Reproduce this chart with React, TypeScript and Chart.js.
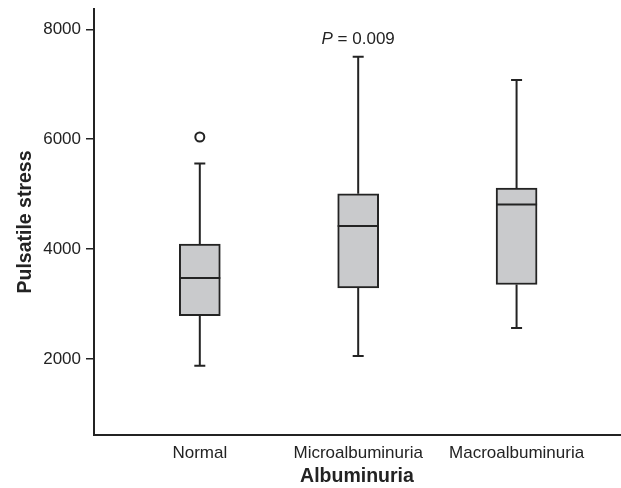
import React, { useEffect, useRef } from "react";
import { Chart, registerables } from "chart.js";

Chart.register(...registerables);

// ---- data ----
const categories = ["Normal", "Microalbuminuria", "Macroalbuminuria"];
const positions = [1, 2, 3];
const whiskerLow = [1880, 2055, 2564];
const q1 = [2790, 3292, 3357];
const median = [3474, 4420, 4813];
const q3 = [4090, 5008, 5111];
const whiskerHigh = [5560, 7500, 7076];
const outlierX = [1];
const outlierY = [6040];
const yTicks = [2000, 4000, 6000, 8000];
const annotationPos = [2, 7810];
const annotationParts = ["P", " = 0.009"];

const FONT = "'Liberation Sans', Arial, Helvetica, sans-serif";
const INK = "#232323";
const BOX_FILL = "#c9cacc";

const boxPlugin = {
  id: "boxWhiskers",
  afterDatasetsDraw(chart: any) {
    const { ctx, scales } = chart;
    const xs = scales.x;
    const ys = scales.y;
    const meta = chart.getDatasetMeta(0);
    ctx.save();
    ctx.strokeStyle = INK;
    ctx.lineWidth = 2;
    positions.forEach((p, i) => {
      const x = xs.getPixelForValue(p);
      const bar = meta.data[i];
      const half = bar ? bar.width / 2 : 20;
      const capHalf = 5.5;
      const yHi = ys.getPixelForValue(whiskerHigh[i]);
      const yQ3 = ys.getPixelForValue(q3[i]);
      const yQ1 = ys.getPixelForValue(q1[i]);
      const yLo = ys.getPixelForValue(whiskerLow[i]);
      const yMed = ys.getPixelForValue(median[i]);
      ctx.beginPath();
      ctx.moveTo(x, yHi);
      ctx.lineTo(x, yQ3);
      ctx.moveTo(x, yQ1);
      ctx.lineTo(x, yLo);
      ctx.moveTo(x - capHalf, yHi);
      ctx.lineTo(x + capHalf, yHi);
      ctx.moveTo(x - capHalf, yLo);
      ctx.lineTo(x + capHalf, yLo);
      ctx.moveTo(x - half, yMed);
      ctx.lineTo(x + half, yMed);
      ctx.stroke();
    });
    // annotation
    const ax = xs.getPixelForValue(annotationPos[0]);
    const ay = ys.getPixelForValue(annotationPos[1]);
    const fItalic = `italic 17px ${FONT}`;
    const fNormal = `17px ${FONT}`;
    ctx.font = fItalic;
    const w1 = ctx.measureText(annotationParts[0]).width;
    ctx.font = fNormal;
    const w2 = ctx.measureText(annotationParts[1]).width;
    const start = ax - (w1 + w2) / 2;
    ctx.fillStyle = INK;
    ctx.textBaseline = "middle";
    ctx.textAlign = "left";
    ctx.font = fItalic;
    ctx.fillText(annotationParts[0], start, ay);
    ctx.font = fNormal;
    ctx.fillText(annotationParts[1], start + w1, ay);
    ctx.restore();
  },
};

export default function App() {
  const ref = useRef<HTMLCanvasElement | null>(null);

  useEffect(() => {
    if (!ref.current) return;
    const chart = new Chart(ref.current, {
      type: "bar",
      data: {
        datasets: [
          {
            type: "bar",
            data: positions.map((p, i) => ({ x: p, y: [q1[i], q3[i]] })) as any,
            backgroundColor: BOX_FILL,
            borderColor: INK,
            borderWidth: 2,
            borderSkipped: false,
            barThickness: 41,
          } as any,
          {
            type: "scatter",
            data: outlierX.map((x, i) => ({ x, y: outlierY[i] })),
            pointRadius: 4.5,
            pointBorderWidth: 2,
            pointBackgroundColor: "#ffffff",
            pointBorderColor: INK,
          } as any,
        ],
      },
      options: {
        animation: false,
        responsive: false,
        layout: { autoPadding: false, padding: { left: 0, right: 1, top: 9, bottom: 0 } },
        plugins: { legend: { display: false }, tooltip: { enabled: false } },
        scales: {
          x: {
            type: "linear",
            offset: false,
            min: 0.332,
            max: 3.653,
            afterBuildTicks: (s: any) => {
              s.ticks = positions.map((v) => ({ value: v }));
            },
            afterFit: (s: any) => {
              s.height = 53;
              s.paddingLeft = 0;
              s.paddingRight = 0;
            },
            ticks: {
              padding: 8,
              color: INK,
              font: { family: FONT, size: 17 },
              callback: (v: any) => categories[positions.indexOf(Number(v))] ?? "",
            },
            grid: { display: true, drawOnChartArea: false, drawTicks: false, color: "rgba(0,0,0,0)" },
            border: { display: true, color: INK, width: 2 },
            title: {
              display: true,
              text: "Albuminuria",
              color: INK,
              font: { family: FONT, size: 19.5, weight: "bold" },
              padding: { top: 0, bottom: 0 },
            },
          },
          y: {
            type: "linear",
            min: 618,
            max: 8369,
            afterBuildTicks: (s: any) => {
              s.ticks = yTicks.map((v) => ({ value: v }));
            },
            afterFit: (s: any) => {
              s.width = 94;
              s.paddingTop = 0;
              s.paddingBottom = 0;
            },
            ticks: {
              padding: 5,
              color: INK,
              font: { family: FONT, size: 17 },
              callback: (v: any) => String(v),
            },
            grid: { display: true, drawOnChartArea: false, drawTicks: true, tickLength: 8, color: INK, lineWidth: 1.5 },
            border: { display: true, color: INK, width: 2 },
            title: {
              display: true,
              text: "Pulsatile stress",
              color: INK,
              font: { family: FONT, size: 19.5, weight: "bold" },
              padding: { top: 14, bottom: 14 },
            },
          },
        },
      },
      plugins: [boxPlugin],
    } as any);
    return () => chart.destroy();
  }, []);

  return (
    <div style={{ position: "fixed", left: 0, top: 0, width: 621, height: 488, background: "#fff" }}>
      <canvas ref={ref} width={621} height={488} style={{ display: "block" }} />
    </div>
  );
}
